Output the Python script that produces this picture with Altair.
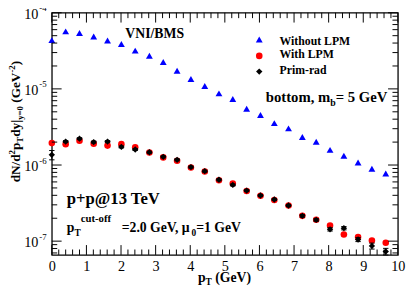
import math
import altair as alt
import pandas as pd

# ---------------- data ----------------
pT = [0.0, 0.40, 0.80, 1.21, 1.61, 2.01, 2.41, 2.82, 3.22, 3.62, 4.02, 4.42, 4.83,
      5.23, 5.63, 6.03, 6.43, 6.84, 7.24, 7.64, 8.04, 8.44, 8.85, 9.25, 9.65]
without_lpm = [4.37e-5, 5.69e-5, 5.42e-5, 4.87e-5, 4.33e-5, 3.88e-5, 3.18e-5, 2.72e-5,
               2.25e-5, 1.73e-5, 1.35e-5, 1.09e-5, 8.73e-6, 7.37e-6, 5.48e-6, 4.55e-6,
               3.55e-6, 3.03e-6, 2.34e-6, 2.02e-6, 1.58e-6, 1.32e-6, 1.08e-6, 8.91e-7, 7.75e-7]
with_lpm = [1.94e-6, 1.88e-6, 2.09e-6, 1.91e-6, 1.80e-6, 1.88e-6, 1.71e-6, 1.46e-6,
            1.26e-6, 1.14e-6, 9.27e-7, 8.23e-7, 6.30e-7, 5.71e-7, 4.55e-7, 3.95e-7,
            3.48e-7, 2.94e-7, 2.15e-7, 1.91e-7, 1.60e-7, 1.22e-7, 1.13e-7, 1.02e-7, 9.53e-8]
prim_rad = [1.36e-6, 2.03e-6, 2.22e-6, 2.00e-6, 2.03e-6, 1.73e-6, 1.60e-6, 1.47e-6,
            1.28e-6, 1.17e-6, 9.40e-7, 8.30e-7, 6.40e-7, 5.48e-7, 4.62e-7, 3.98e-7,
            3.53e-7, 2.94e-7, 2.15e-7, 1.90e-7, 1.43e-7, 1.48e-7, 1.05e-7, 8.65e-8, 7.31e-8]
prim_rad_relerr = [0.14, 0.03, 0.03, 0.03, 0.03, 0.03, 0.03, 0.03, 0.03, 0.03, 0.03, 0.03,
                   0.03, 0.03, 0.03, 0.03, 0.03, 0.03, 0.04, 0.04, 0.05, 0.05, 0.06, 0.09, 0.10]

x_major = list(range(0, 11))
x_minor = [round(0.2 * i, 1) for i in range(0, 51) if i % 5]
y_major = [1e-7, 1e-6, 1e-5, 1e-4]
y_major_exp = ["-7", "-6", "-5", "-4"]
Y_LO, Y_HI = 6.6e-8, 1e-4
y_minor = [m * 10.0 ** d for d in range(-8, -4) for m in range(2, 10)
           if Y_LO <= m * 10.0 ** d <= Y_HI]

# ---------------- layout ----------------
W, H = 353, 247
PPD = H / (math.log10(Y_HI) - math.log10(Y_LO))   # pixels per decade
PPU = W / 10.0                                      # pixels per x unit
SERIF = "Liberation Serif"
xs = alt.Scale(domain=[0, 10], nice=False, zero=False)
ys = alt.Scale(type="log", domain=[Y_LO, Y_HI], nice=False)

main = pd.DataFrame({"pT": pT, "wo": without_lpm, "w": with_lpm, "pr": prim_rad})
main["lo"] = [v * (1 - e) for v, e in zip(prim_rad, prim_rad_relerr)]
main["hi"] = [v * (1 + e) for v, e in zip(prim_rad, prim_rad_relerr)]

xaxis = alt.Axis(values=x_major, format="d", ticks=False, tickSize=0, domain=False, grid=False,
                 labelFont=SERIF, labelFontSize=14.5, labelColor="black", labelPadding=5,
                 labelFlush=False, labelOverlap=False, title=None)
yaxis = alt.Axis(values=y_major, labelExpr="'10'", ticks=False, tickSize=0, domain=False,
                 grid=False, labelFont=SERIF, labelFontSize=14.5, labelColor="black",
                 labelPadding=14.2, labelBaseline="middle", labelOffset=1.5,
                 labelFlush=False, labelOverlap=False, title=None)


def X(f):
    return alt.X(f, scale=xs, axis=xaxis)


def Y(f):
    return alt.Y(f, scale=ys, axis=yaxis)


base = alt.Chart(main)
blue = base.mark_point(shape="triangle-up", filled=True, size=49, color="#0000ff",
                       opacity=1).encode(x=X("pT:Q"), y=Y("wo:Q"))
red = base.mark_point(shape="circle", filled=True, size=45, color="#ff0000",
                      opacity=1).encode(x=X("pT:Q"), y=Y("w:Q"))
err = base.mark_rule(color="black", strokeWidth=1).encode(x=X("pT:Q"), y=Y("lo:Q"), y2="hi:Q")
cap_lo = base.mark_point(shape="stroke", size=30, color="black", strokeWidth=1,
                         opacity=1).encode(x=X("pT:Q"), y=Y("lo:Q"))
cap_hi = base.mark_point(shape="stroke", size=30, color="black", strokeWidth=1,
                         opacity=1).encode(x=X("pT:Q"), y=Y("hi:Q"))
black = base.mark_point(shape="diamond", filled=True, size=42, color="black",
                        opacity=1).encode(x=X("pT:Q"), y=Y("pr:Q"))

# ---------------- inward ticks on all four sides ----------------
MAJ, MIN = 10, 5.5


def xticks(vals, length, top):
    if top:
        a, b = Y_HI, Y_HI / 10 ** (length / PPD)
    else:
        a, b = Y_LO, Y_LO * 10 ** (length / PPD)
    d = pd.DataFrame({"t": vals, "a": [a] * len(vals), "b": [b] * len(vals)})
    return alt.Chart(d).mark_rule(color="black", strokeWidth=1).encode(
        x=X("t:Q"), y=Y("a:Q"), y2="b:Q")


def yticks(vals, length, right):
    if right:
        a, b = 10.0, 10.0 - length / PPU
    else:
        a, b = 0.0, length / PPU
    d = pd.DataFrame({"t": vals, "a": [a] * len(vals), "b": [b] * len(vals)})
    return alt.Chart(d).mark_rule(color="black", strokeWidth=1).encode(
        y=Y("t:Q"), x=X("a:Q"), x2="b:Q")


ticks = [xticks(x_major, MAJ, False), xticks(x_minor, MIN, False),
         xticks(x_major, MAJ, True), xticks(x_minor, MIN, True),
         yticks(y_major, MAJ, False), yticks(y_minor, MIN, False),
         yticks(y_major, MAJ, True), yticks(y_minor, MIN, True)]

sup = alt.Chart(pd.DataFrame({"v": y_major, "lab": y_major_exp})).mark_text(
    align="left", baseline="middle", dy=-4.5, fontSize=9, font=SERIF, color="black").encode(
    x=alt.value(-12.7), y=Y("v:Q"), text="lab:N")

# ---------------- rich text annotations ----------------
TB = {" ": 250, "(": 333, ")": 333, "+": 570, ",": 250, "-": 333, ".": 250, "/": 278,
      "=": 570, "@": 930, "|": 220, "B": 667, "G": 778, "I": 389, "L": 667, "M": 944,
      "N": 722, "P": 611, "S": 556, "T": 667, "V": 722, "W": 1000, "a": 500, "b": 556,
      "c": 444, "d": 556, "e": 444, "f": 333, "h": 556, "i": 278, "m": 833, "n": 556,
      "o": 500, "p": 556, "r": 444, "t": 333, "u": 556, "y": 500, "\u03bc": 576}
one = pd.DataFrame({"a": [0]})


def tw(s, size):
    return sum(TB.get(c, 500) for c in s) * size / 1000.0


def flow(segs, x0, y0, rotate=False):
    out, pos = [], 0.0
    for text, size, shift in segs:
        lead = len(text) - len(text.lstrip(" "))
        pos += lead * 250 * size / 1000.0
        text = text.lstrip(" ")
        if rotate:
            x, y = x0 + shift, y0 - pos
        else:
            x, y = x0 + pos, y0 + shift
        out.append(alt.Chart(one).mark_text(
            text=text, fontSize=size, font=SERIF, fontWeight="bold", align="left",
            baseline="alphabetic", angle=270 if rotate else 0, color="black").encode(
            x=alt.value(x), y=alt.value(y)))
        pos += tw(text, size)
    return out


texts = []
texts += flow([("dN/d", 13.5, 0), ("2", 9, -5), ("p", 13.5, 0), ("T", 9, 3.5),
               ("dy|", 13.5, 0), ("y=0", 9, 3.5), (" (GeV", 13.5, 0), ("-2", 9, -5),
               (")", 13.5, 0)], -32.7, 173, rotate=True)
texts += flow([("p", 14, 0), ("T", 9.5, 3.5), (" (GeV)", 14, 0)], 149, 274.5)
texts += flow([("VNI/BMS", 14, 0)], 75, 25.5)
texts += flow([("bottom, m", 15, 0), ("b", 10, 4), ("= 5 GeV", 15, 0)], 218.3, 91.5)
texts += flow([("p+p@13 TeV", 17, 0)], 15.3, 195.5)
texts += flow([("p", 14, 0), ("T", 9.5, 4), ("cut-off", 11, -10.5)], 15.3, 224)
texts += flow([("=2.0 GeV, \u03bc", 14, 0), ("0", 9.5, 4), ("=1 GeV", 14, 0)], 71.3, 223.5)
texts += flow([("Without LPM", 12, 0)], 232.3, 33)
texts += flow([("With LPM", 12, 0)], 232.3, 46.5)
texts += flow([("Prim-rad", 12, 0)], 232.3, 62)

leg = [
    alt.Chart(one).mark_point(shape="triangle-up", filled=True, size=49, color="#0000ff",
                              opacity=1).encode(x=alt.value(211.6), y=alt.value(27.3)),
    alt.Chart(one).mark_point(shape="circle", filled=True, size=45, color="#ff0000",
                              opacity=1).encode(x=alt.value(211.6), y=alt.value(44)),
    alt.Chart(one).mark_point(shape="diamond", filled=True, size=42, color="black",
                              opacity=1).encode(x=alt.value(211.6), y=alt.value(60)),
]

chart = alt.layer(blue, red, err, cap_lo, cap_hi, black, *ticks, sup, *texts, *leg).properties(
    width=W, height=H,
    padding={"left": 44.7, "top": 2, "right": 8.3, "bottom": 35},
    autosize=alt.AutoSizeParams(type="none"),
    background="white",
).configure_view(stroke="black", strokeWidth=1.3)

chart.save("out.html", embed_options={"renderer": "svg", "actions": False})
